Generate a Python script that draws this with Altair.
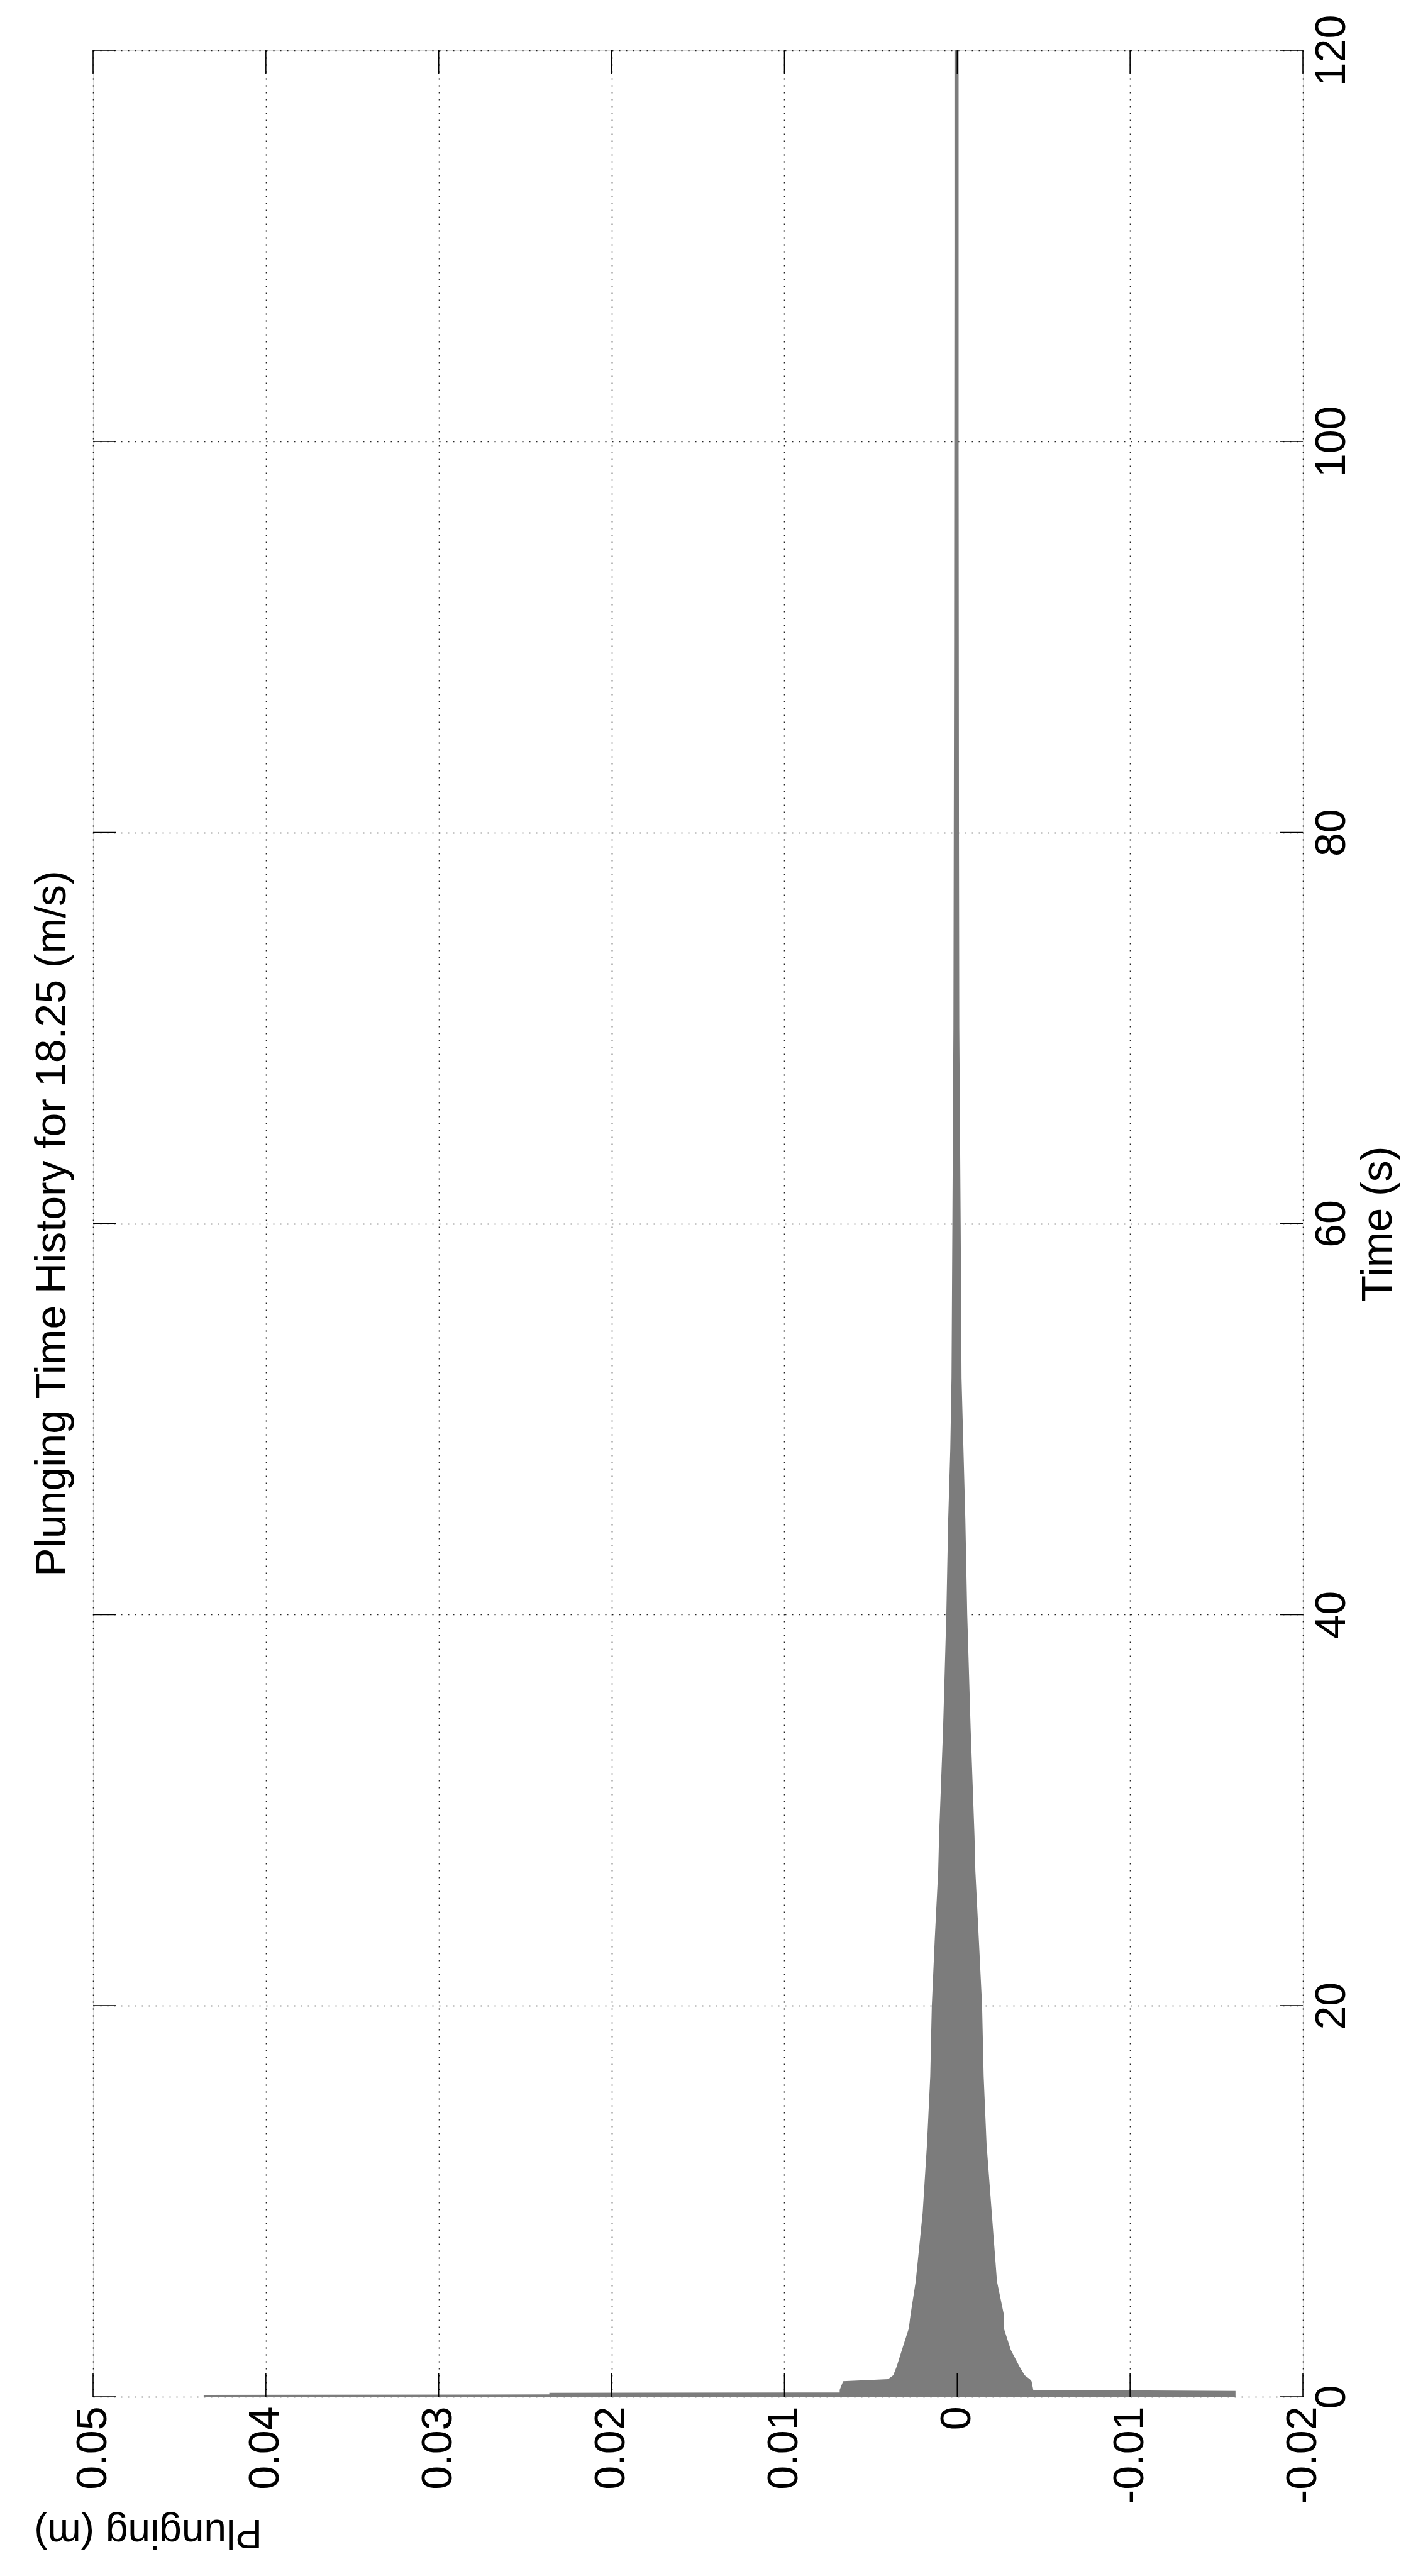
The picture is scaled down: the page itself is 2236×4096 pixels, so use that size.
import altair as alt
import pandas as pd

# ---- data (time history envelope of the plunging response) ----
time_s = [0.0, 0.1, 0.12, 0.2, 0.22, 0.3, 0.35, 0.8, 0.9, 1.1, 1.55, 2.4, 3.5, 4.2, 5.9,
          9.4, 12.9, 16.4, 20.0, 23.4, 26.9, 28.7, 34.1, 40.0, 44.9, 48.5, 52.1, 60.0,
          70.0, 80.0, 90.0, 100.0, 110.0, 120.0]
upper_m = [0.0436, 0.0436, 0.0236, 0.0236, 0.0068, 0.0068, 0.0068, 0.0066, 0.0040, 0.0037,
           0.0035, 0.0032, 0.0028, 0.0027, 0.0024, 0.0020, 0.00175, 0.00156, 0.00147,
           0.0013, 0.0011, 0.00105, 0.00082, 0.00063, 0.00052, 0.00040, 0.00033, 0.00028,
           0.00022, 0.00020, 0.00018, 0.00017, 0.00016, 0.00016]
lower_m = [-0.0161, -0.0161, -0.0161, -0.0161, -0.0161, -0.0161, -0.0044, -0.0043, -0.0042,
           -0.0039, -0.0036, -0.0031, -0.0027, -0.0027, -0.0023, -0.0020, -0.0017, -0.00153,
           -0.00144, -0.00125, -0.00105, -0.0010, -0.00078, -0.00058, -0.00047, -0.00036,
           -0.00025, -0.00020, -0.00012, -0.00010, -0.00009, -0.00008, -0.00008, -0.00008]

x_ticks = [0.05, 0.04, 0.03, 0.02, 0.01, 0.0, -0.01, -0.02]
y_ticks = [0, 20, 40, 60, 80, 100, 120]

title_text = "Plunging Time History for 18.25 (m/s)"
x_title = "Plunging (m)"
y_title = "Time (s)"

# ---- layout ----
W, H = 1924, 3731
FONT = "Liberation Sans"
FS = 68
TICK = 37

env = pd.DataFrame({"t": time_s, "upper": upper_m, "lower": lower_m})
xt = pd.DataFrame({"p": x_ticks})
yt = pd.DataFrame({"t": y_ticks})

xscale = alt.Scale(domain=[-0.02, 0.05], reverse=True, nice=False, zero=False)
yscale = alt.Scale(domain=[0, 120], nice=False, zero=False)

label_expr = ("datum.value == 0 ? '0' : (datum.value < 0 ? '-' + format(-datum.value, '.2f')"
              " : format(datum.value, '.2f'))")

grid_style = dict(grid=True, gridDash=[2, 9], gridColor="black", gridWidth=1.6, gridOpacity=0.85)

xaxis = alt.Axis(
    values=x_ticks, labelExpr=label_expr, orient="bottom",
    labelAngle=270, labelAlign="right", labelBaseline="middle", labelPadding=15,
    labelFontSize=FS, ticks=False, tickSize=0, domain=False, **grid_style,
    title=x_title, titleAngle=180, titleX=87, titleY=214, titleAlign="center",
    titleBaseline="middle", titleFontSize=FS - 4, titleFontWeight="normal",
)
yaxis = alt.Axis(
    values=y_ticks, orient="right", format="d",
    labelAngle=270, labelAlign="center", labelBaseline="top", labelPadding=12,
    labelFontSize=FS, ticks=False, tickSize=0, domain=False, **grid_style,
    title=y_title, titleAngle=270, titleX=120, titleY=H / 2, titleAlign="center",
    titleBaseline="middle", titleFontSize=FS, titleFontWeight="normal",
)

area = alt.Chart(env).mark_area(orient="horizontal", color="#7c7c7c", opacity=1).encode(
    y=alt.Y("t:Q", scale=yscale, axis=yaxis),
    x=alt.X("upper:Q", scale=xscale, axis=xaxis),
    x2="lower:Q",
)

tick_style = dict(color="black", strokeWidth=1.6)
bottom_ticks = alt.Chart(xt).mark_rule(**tick_style).encode(
    x=alt.X("p:Q", scale=xscale, axis=xaxis), y=alt.value(H), y2=alt.value(H - TICK))
top_ticks = alt.Chart(xt).mark_rule(**tick_style).encode(
    x=alt.X("p:Q", scale=xscale, axis=xaxis), y=alt.value(0), y2=alt.value(TICK))
left_ticks = alt.Chart(yt).mark_rule(**tick_style).encode(
    y=alt.Y("t:Q", scale=yscale, axis=yaxis), x=alt.value(0), x2=alt.value(TICK))
right_ticks = alt.Chart(yt).mark_rule(**tick_style).encode(
    y=alt.Y("t:Q", scale=yscale, axis=yaxis), x=alt.value(W), x2=alt.value(W - TICK))

chart = alt.layer(area, bottom_ticks, top_ticks, left_ticks, right_ticks).properties(
    width=W, height=H,
    autosize=alt.AutoSizeParams(type="none"),
    padding={"left": 140, "top": 72, "right": 156, "bottom": 277},
    title=alt.TitleParams(
        title_text, orient="left", anchor="middle", frame="group", angle=270,
        fontSize=FS, font=FONT, fontWeight="normal", color="black", offset=-64,
    ),
).configure_view(
    stroke="black", strokeWidth=2
).configure_axis(
    labelFont=FONT, titleFont=FONT, labelColor="black", titleColor="black",
).configure(background="white")

chart.save("out.html", embed_options={"renderer": "svg", "actions": False})
